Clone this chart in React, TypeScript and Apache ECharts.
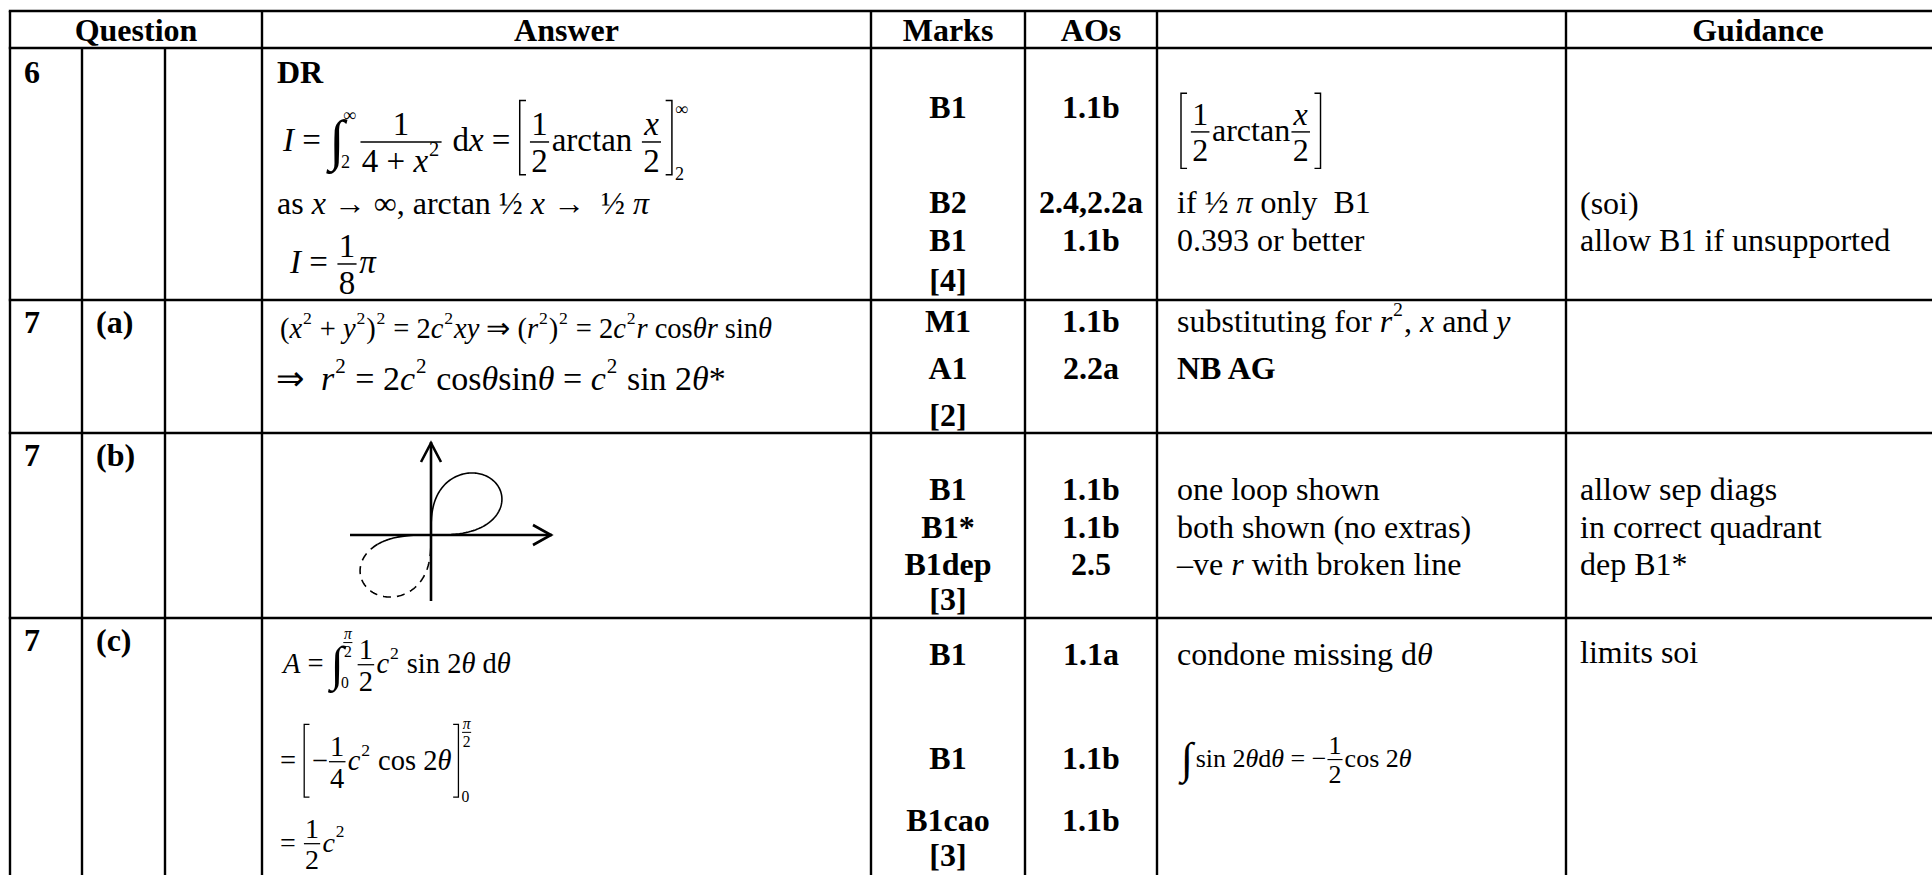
import React, { useEffect, useRef } from "react";
import * as echarts from "echarts";

// ---------- table content ----------
const HEADERS = ["Question", "Answer", "Marks", "AOs", "", "Guidance"];
const QUESTION_NUMBERS = ["6", "7", "7", "7"];
const QUESTION_PARTS = ["", "(a)", "(b)", "(c)"];
const MARKS = [
  ["B1", "B2", "B1", "[4]"],
  ["M1", "A1", "[2]"],
  ["B1", "B1*", "B1dep", "[3]"],
  ["B1", "B1", "B1cao", "[3]"],
];
const AOS = [
  ["1.1b", "2.4,2.2a", "1.1b"],
  ["1.1b", "2.2a"],
  ["1.1b", "1.1b", "2.5"],
  ["1.1a", "1.1b", "1.1b"],
];
const NOTES_PLAIN = ["0.393 or better", "NB AG", "one loop shown", "both shown (no extras)"];
const GUIDANCE = [
  ["(soi)", "allow B1 if unsupported"],
  [],
  ["allow sep diags", "in correct quadrant", "dep B1*"],
  ["limits soi"],
];
const ANSWER_LABEL = "DR";

// ---------- layout constants ----------
const FF = '"Liberation Serif", "Times New Roman", Times, serif';
const COLS = [10, 82, 165, 262, 871, 1025, 1157, 1566, 1950];
const ROWS = [11, 48, 300, 433, 618, 900];
const Q_Y = [72, 322, 455, 640];
const MARKS_Y = [
  [107, 202, 240, 280],
  [321, 368, 415],
  [489, 527, 564, 599],
  [654, 758, 820, 855],
];
const GUID_Y = [[203, 240], [], [489, 527, 564], [652]];
const BODY = 32;

const It = (s: string, o: any = {}) => ({ k: "t", s, i: true, ...o });
const Sup = (s: string, o: any = {}) => ({ k: "sup", s, ...o });
const Fr = (n: any[], d: any[], sc = 1) => ({ k: "fr", n, d, sc });
const Int = (lo: any[] | null, hi: any[] | null, lsc = 0.55) => ({ k: "int", lo, hi, lsc });
const BrL = (up: number, dn: number) => ({ k: "brl", up, dn });
const BrR = (up: number, dn: number, lo: any[] | null = null, hi: any[] | null = null, lsc = 0.55) => ({
  k: "brr", up, dn, lo, hi, lsc,
});

function buildElements(): any[] {
  const els: any[] = [];
  const canvas = document.createElement("canvas");
  const ctx = canvas.getContext("2d")!;
  const mw = (s: string, size: number, it?: boolean, b?: boolean) => {
    ctx.font = `${it ? "italic " : ""}${b ? "bold " : ""}${size}px ${FF}`;
    return ctx.measureText(s).width;
  };
  const text = (x: number, y: number, s: string, size: number, o: any = {}) => {
    const align = o.align || "left";
    els.push({
      type: "text",
      x,
      y,
      silent: true,
      style: {
        text: s,
        fontSize: size,
        fontFamily: FF,
        fontStyle: o.i ? "italic" : "normal",
        fontWeight: o.b ? "bold" : "normal",
        fill: "#000",
        align,
        verticalAlign: "middle",
        textAlign: align,
        textVerticalAlign: "middle",
      },
    });
  };
  const line = (x1: number, y1: number, x2: number, y2: number, lw = 2.4, dash?: number[]) =>
    els.push({
      type: "line",
      silent: true,
      shape: { x1, y1, x2, y2 },
      style: { stroke: "#000", lineWidth: lw, lineDash: dash },
    });
  const poly = (points: number[][], lw = 1.5, dash?: number[]) =>
    els.push({
      type: "polyline",
      silent: true,
      shape: { points },
      style: { stroke: "#000", fill: null, lineWidth: lw, lineDash: dash },
    });

  function lay(segs: any[], x: number, y: number, size: number, draw: boolean): number {
    let cx = x;
    for (let g of segs) {
      if (typeof g === "string") g = { k: "t", s: g };
      if (g.k === "t") {
        const sz = size * (g.sc || 1);
        if (draw) text(cx, y + (g.dy || 0) * size, g.s, sz, { i: g.i, b: g.b });
        cx += mw(g.s, sz, g.i, g.b);
      } else if (g.k === "sup") {
        const sz = size * 0.62;
        if (draw) text(cx + size * 0.03, y - size * 0.36, g.s, sz, { i: g.i });
        cx += mw(g.s, sz, g.i) + size * 0.06;
      } else if (g.k === "fr") {
        const fs = size * g.sc;
        const wn = lay(g.n, 0, 0, fs, false);
        const wd = lay(g.d, 0, 0, fs, false);
        const Wd = Math.max(wn, wd) + fs * 0.16;
        const by = y + size * 0.06;
        if (draw) {
          lay(g.n, cx + (Wd - wn) / 2, by - fs * 0.55, fs, true);
          lay(g.d, cx + (Wd - wd) / 2, by + fs * 0.58, fs, true);
          line(cx + fs * 0.04, by, cx + Wd - fs * 0.04, by, Math.max(1, fs * 0.045));
        }
        cx += Wd + size * 0.04;
      } else if (g.k === "int") {
        const isz = size * 1.7;
        const w = mw("∫", isz);
        if (draw) text(cx, y, "∫", isz);
        const ls = size * g.lsc;
        let lw = w;
        if (g.hi) {
          const wh = lay(g.hi, 0, 0, ls, false);
          if (draw) lay(g.hi, cx + w * 0.9, y - size * 0.75, ls, true);
          lw = Math.max(lw, w * 0.9 + wh);
        }
        if (g.lo) {
          const wl = lay(g.lo, 0, 0, ls, false);
          if (draw) lay(g.lo, cx + w * 0.78, y + size * 0.68, ls, true);
          lw = Math.max(lw, w * 0.78 + wl);
        }
        cx += lw + size * 0.1;
      } else if (g.k === "brl") {
        const top = y - g.up * size;
        const bot = y + g.dn * size;
        const bw = size * 0.22;
        if (draw)
          poly(
            [
              [cx + bw, top],
              [cx + 1, top],
              [cx + 1, bot],
              [cx + bw, bot],
            ],
            Math.max(1.2, size * 0.045)
          );
        cx += bw + size * 0.08;
      } else if (g.k === "brr") {
        const top = y - g.up * size;
        const bot = y + g.dn * size;
        const bw = size * 0.22;
        cx += size * 0.06;
        if (draw)
          poly(
            [
              [cx, top],
              [cx + bw - 1, top],
              [cx + bw - 1, bot],
              [cx, bot],
            ],
            Math.max(1.2, size * 0.045)
          );
        cx += bw;
        const ls = size * g.lsc;
        let lw = 0;
        if (g.hi) {
          const wh = lay(g.hi, 0, 0, ls, false);
          if (draw) lay(g.hi, cx + 2, top + ls * 0.45, ls, true);
          lw = Math.max(lw, wh);
        }
        if (g.lo) {
          const wl = lay(g.lo, 0, 0, ls, false);
          if (draw) lay(g.lo, cx + 2, bot - ls * 0.05, ls, true);
          lw = Math.max(lw, wl);
        }
        cx += lw + 4;
      }
    }
    return cx - x;
  }
  const row = (segs: any[], x: number, y: number, size: number) => lay(segs, x, y, size, true);

  // ---------- grid lines ----------
  const LW = 2.4;
  ROWS.forEach((y) => line(COLS[0] - 1.2, y, COLS[COLS.length - 1], y, LW));
  COLS.forEach((x, i) => {
    const y0 = i === 1 || i === 2 ? ROWS[1] : ROWS[0];
    line(x, y0, x, ROWS[ROWS.length - 1], LW);
  });

  // ---------- header ----------
  const headerCenters = [
    (COLS[0] + COLS[3]) / 2,
    (COLS[3] + COLS[4]) / 2,
    (COLS[4] + COLS[5]) / 2,
    (COLS[5] + COLS[6]) / 2,
    (COLS[6] + COLS[7]) / 2,
    (COLS[7] + COLS[8]) / 2,
  ];
  HEADERS.forEach((h, i) => h && text(headerCenters[i], 30, h, BODY, { b: true, align: "center" }));

  // ---------- question labels ----------
  QUESTION_NUMBERS.forEach((q, i) => {
    text(COLS[0] + 14, Q_Y[i], q, BODY, { b: true });
    if (QUESTION_PARTS[i]) text(COLS[1] + 14, Q_Y[i], QUESTION_PARTS[i], BODY, { b: true });
  });

  // ---------- marks / AOs ----------
  const mc = (COLS[4] + COLS[5]) / 2;
  const ac = (COLS[5] + COLS[6]) / 2;
  MARKS.forEach((ms, r) =>
    ms.forEach((m, j) => text(mc, MARKS_Y[r][j], m, BODY, { b: true, align: "center" }))
  );
  AOS.forEach((as, r) => as.forEach((a, j) => text(ac, MARKS_Y[r][j], a, BODY, { b: true, align: "center" })));

  // ---------- guidance ----------
  GUIDANCE.forEach((gs, r) => gs.forEach((g, j) => text(COLS[7] + 14, GUID_Y[r][j], g, BODY)));

  // ---------- notes column ----------
  const nx = COLS[6] + 20;
  row([BrL(1.15, 1.2), Fr(["1"], ["2"]), "arctan", Fr([It("x")], ["2"]), BrR(1.15, 1.2)], nx + 3, 130, BODY);
  row(["if ½ ", It("π"), " only  B1"], nx, MARKS_Y[0][1], BODY);
  text(nx, MARKS_Y[0][2], NOTES_PLAIN[0], BODY);
  row(["substituting for ", It("r"), Sup("2"), ", ", It("x"), " and ", It("y")], nx, MARKS_Y[1][0], BODY);
  text(nx, MARKS_Y[1][1], NOTES_PLAIN[1], BODY, { b: true });
  text(nx, MARKS_Y[2][0], NOTES_PLAIN[2], BODY);
  text(nx, MARKS_Y[2][1], NOTES_PLAIN[3], BODY);
  row(["–ve ", It("r"), " with broken line"], nx, MARKS_Y[2][2], BODY);
  row(["condone missing d", It("θ")], nx, MARKS_Y[3][0], BODY);
  row(
    [Int(null, null), "sin 2", It("θ"), "d", It("θ"), " = −", Fr(["1"], ["2"]), "cos 2", It("θ")],
    nx + 4,
    MARKS_Y[3][1],
    26
  );

  // ---------- answer column ----------
  const ax = COLS[3] + 15;
  text(ax, Q_Y[0], ANSWER_LABEL, BODY, { b: true });
  row(
    [
      It("I"), " = ", Int(["2"], ["∞"]),
      Fr(["1"], ["4 + ", It("x"), Sup("2")]),
      " d", It("x"), " = ",
      BrL(1.2, 1.05), Fr(["1"], ["2"]), "arctan ", Fr([It("x")], ["2"]), BrR(1.2, 1.05, ["2"], ["∞"]),
    ],
    ax + 6, 140, 33
  );
  row(["as ", It("x"), " → ∞, arctan ½ ", It("x"), " →  ½ ", It("π")], ax, 203, BODY);
  row([It("I"), " = ", Fr(["1"], ["8"]), It("π")], ax + 13, 262, 33);

  row(
    [
      "(", It("x"), Sup("2"), " + ", It("y"), Sup("2"), ")", Sup("2"), " = 2", It("c"), Sup("2"), It("xy"),
      " ⇒ (", It("r"), Sup("2"), ")", Sup("2"), " = 2", It("c"), Sup("2"), It("r"), " cos", It("θ"), It("r"),
      " sin", It("θ"),
    ],
    ax + 3, 328, 28.5
  );
  row(
    [
      "⇒  ", It("r"), Sup("2"), " = 2", It("c"), Sup("2"), " cos", It("θ"), "sin", It("θ"), " = ", It("c"),
      Sup("2"), " sin 2", It("θ"), "*",
    ],
    ax - 1, 378, 34
  );

  row(
    [It("A"), " = ", Int(["0"], [Fr([It("π")], ["2"])], 0.55), Fr(["1"], ["2"]), It("c"), Sup("2"), " sin 2", It("θ"), " d", It("θ")],
    ax + 6, 663, 28.5
  );
  row(
    ["= ", BrL(1.25, 1.3), "−", Fr(["1"], ["4"]), It("c"), Sup("2"), " cos 2", It("θ"), BrR(1.25, 1.3, ["0"], [Fr([It("π")], ["2"])], 0.55)],
    ax + 3, 760, 28.5
  );
  row(["= ", Fr(["1"], ["2"]), It("c"), Sup("2")], ax + 3, 842, 28);

  // ---------- sketch for 7(b) ----------
  const ox = 431, oy = 535;
  line(ox, 442, ox, 601, 2.6);
  line(350, oy, 552, oy, 2.6);
  poly([[ox - 10, 462], [ox, 443], [ox + 10, 462]], 2.6);
  poly([[533, oy - 10], [551, oy], [533, oy + 10]], 2.6);
  const sx = 88, sy = 77;
  const lem = (t0: number, t1: number, n: number) => {
    const pts: number[][] = [];
    for (let i = 0; i <= n; i++) {
      const t = t0 + ((t1 - t0) * i) / n;
      const r = Math.sqrt(Math.max(0, Math.sin(2 * t)));
      pts.push([ox + sx * r * Math.cos(t), oy - sy * r * Math.sin(t)]);
    }
    return pts;
  };
  poly(lem(0, Math.PI / 2, 120), 1.6);
  poly(lem(Math.PI, Math.PI + 0.2, 30), 1.6);
  poly(lem(Math.PI + 0.2, (3 * Math.PI) / 2, 100), 1.6, [8, 6]);

  return els;
}

export default function App() {
  const ref = useRef<HTMLDivElement>(null);
  useEffect(() => {
    if (!ref.current) return;
    const chart = echarts.init(ref.current, null, { renderer: "svg" });
    chart.setOption({
      animation: false,
      backgroundColor: "#ffffff",
      graphic: { elements: buildElements() },
    });
    return () => chart.dispose();
  }, []);
  return (
    <div
      ref={ref}
      style={{ position: "fixed", left: 0, top: 0, width: 1932, height: 875, background: "#fff" }}
    />
  );
}
